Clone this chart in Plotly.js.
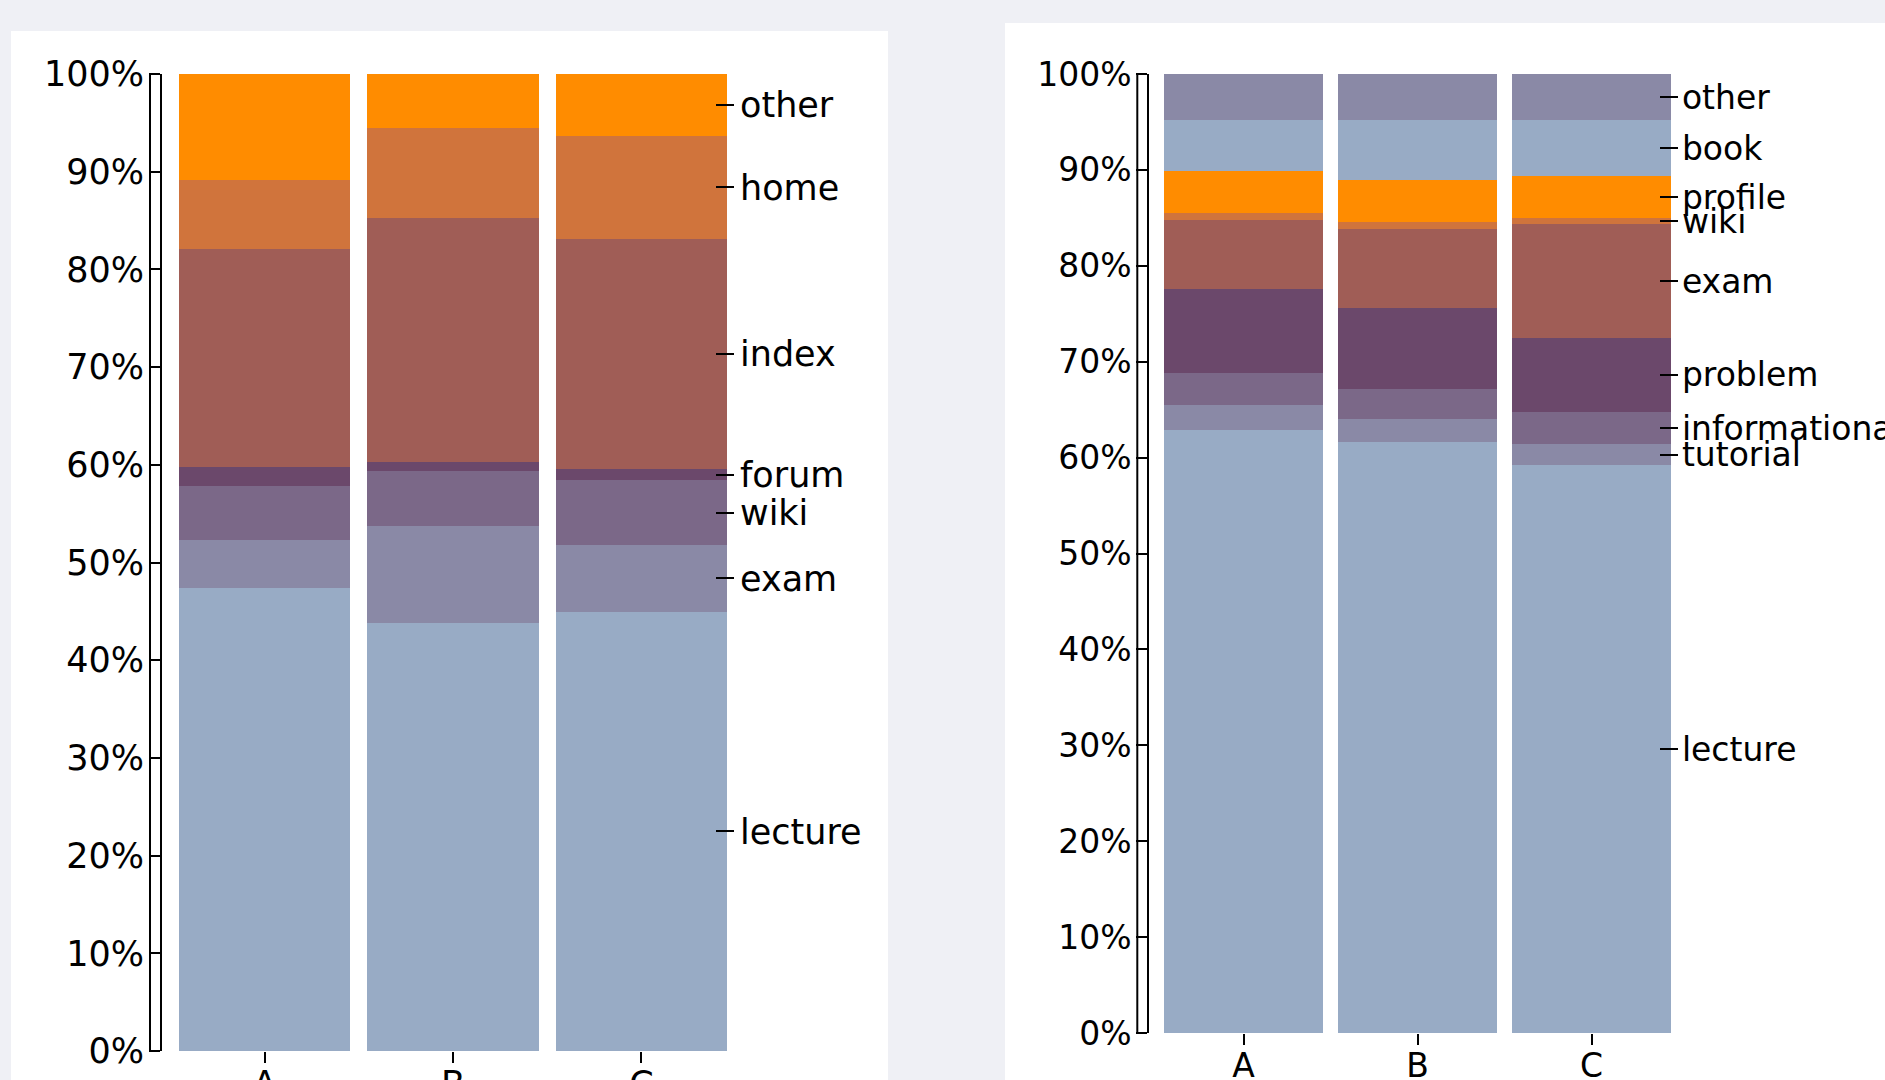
<!DOCTYPE html>
<html>
<head>
<meta charset="utf-8">
<script src="https://cdn.plot.ly/plotly-3.0.1.min.js"></script>
<style>
  html, body { margin: 0; padding: 0; background: #eff0f5; width: 1885px; height: 1080px; overflow: hidden; }
  .card { position: absolute; background: #ffffff; }
</style>
</head>
<body>
<div id="left" class="card" style="left:11px; top:31px; width:877px; height:1100px;"></div>
<div id="right" class="card" style="left:1005px; top:23px; width:880px; height:1100px;"></div>
<script>
// ---------- DATA ----------
const categories = ['A', 'B', 'C'];
const palette = ['#98abc5', '#8a89a6', '#7b6888', '#6b486b', '#a05d56', '#d0743c', '#ff8c00'];

// Left chart (bottom -> top)
const leftSeries = ['lecture', 'exam', 'wiki', 'forum', 'index', 'home', 'other'];
const leftLecture = [47.43, 43.77, 44.97];
const leftExam    = [4.87, 9.92, 6.82];
const leftWiki    = [5.55, 5.63, 6.62];
const leftForum   = [1.95, 0.99, 1.13];
const leftIndex   = [22.25, 24.91, 23.57];
const leftHome    = [7.05, 9.22, 10.56];
const leftOther   = [10.90, 5.56, 6.33];

// Right chart (bottom -> top)
const rightSeries = ['lecture', 'tutorial', 'informational', 'problem', 'exam', 'wiki', 'profile', 'book', 'other'];
const rightLecture       = [62.84, 61.59, 59.20];
const rightTutorial      = [2.63, 2.42, 2.18];
const rightInformational = [3.39, 3.19, 3.40];
const rightProblem       = [8.72, 8.41, 7.71];
const rightExam          = [7.20, 8.20, 11.84];
const rightWiki          = [0.76, 0.72, 0.65];
const rightProfile       = [4.32, 4.40, 4.40];
const rightBook          = [5.33, 6.26, 5.81];
const rightOther         = [4.81, 4.81, 4.81];

const yTickVals = [0, 10, 20, 30, 40, 50, 60, 70, 80, 90, 100];
const yTickText = ['0%', '10%', '20%', '30%', '40%', '50%', '60%', '70%', '80%', '90%', '100%'];

// ---------- DRAW ----------
function draw(divId, names, values, g) {
  const W = g.width, H = g.height;
  const FONT = {family: 'DejaVu Sans', size: g.fontSize, color: '#000000'};
  const traces = names.map((n, i) => ({
    type: 'bar', name: n, x: categories, y: values[i],
    marker: {color: palette[i % palette.length], line: {width: 0}},
    hoverinfo: 'none'
  }));
  // midpoints of each segment in the last category (normalised)
  const last = categories.length - 1;
  const total = values.reduce((s, v) => s + v[last], 0);
  let cum = 0;
  const mids = values.map(v => { const p = v[last] / total * 100; const m = cum + p / 2; cum += p; return m; });
  // invisible carrier so the right-hand label axis is drawn
  traces.push({
    type: 'scatter', mode: 'markers', x: mids.map(() => categories[last]), y: mids,
    yaxis: 'y2', marker: {opacity: 0, size: 1}, hoverinfo: 'skip', showlegend: false
  });

  const layout = {
    width: W, height: H,
    margin: {l: 0, r: 0, t: g.top, b: H - g.bottom, pad: 0},
    paper_bgcolor: '#ffffff', plot_bgcolor: 'rgba(0,0,0,0)',
    barmode: 'stack', barnorm: 'percent', bargap: 0.09,
    showlegend: false,
    font: FONT,
    xaxis: {
      type: 'category', domain: [g.x0 / W, g.x1 / W],
      showline: false, showgrid: false, zeroline: false,
      ticks: 'outside', ticklen: 11, tickwidth: 2, tickcolor: '#000',
      ticklabelstandoff: g.xStand,
      tickfont: FONT, anchor: 'y'
    },
    yaxis: {
      range: [0, 100], tickmode: 'array', tickvals: yTickVals, ticktext: yTickText,
      anchor: 'free', position: g.axisX / W,
      showline: true, linewidth: 2, linecolor: '#000',
      ticks: 'outside', ticklen: g.rectW, tickwidth: 2, tickcolor: '#000',
      ticklabelstandoff: -2,
      showgrid: false, zeroline: false, tickfont: FONT
    },
    yaxis2: {
      overlaying: 'y', side: 'right', range: [0, 100],
      anchor: 'free', position: g.labelTickX / W,
      tickmode: 'array', tickvals: mids, ticktext: names,
      showline: false, showgrid: false, zeroline: false,
      ticks: 'outside', ticklen: 18, tickwidth: 2, tickcolor: '#000',
      ticklabelstandoff: g.y2Stand,
      tickfont: FONT
    },
    shapes: [{
      type: 'line', xref: 'paper', yref: 'y',
      x0: (g.axisX - g.rectW) / W, x1: (g.axisX - g.rectW) / W, y0: 0, y1: 100,
      line: {color: '#000', width: 2}
    }]
  };
  Plotly.newPlot(divId, traces, layout, {staticPlot: true, displayModeBar: false});
}

draw('left',
  leftSeries,
  [leftLecture, leftExam, leftWiki, leftForum, leftIndex, leftHome, leftOther],
  {width: 877, height: 1100, top: 43, bottom: 1020.5, x0: 159.5, x1: 724.6, axisX: 150, rectW: 11,
   labelTickX: 704, fontSize: 35, xStand: -9, y2Stand: -1});

draw('right',
  rightSeries,
  [rightLecture, rightTutorial, rightInformational, rightProblem, rightExam, rightWiki, rightProfile, rightBook, rightOther],
  {width: 880, height: 1100, top: 51, bottom: 1010.5, x0: 151.5, x1: 673.6, axisX: 143.3, rectW: 11,
   labelTickX: 654.3, fontSize: 33, xStand: -8, y2Stand: -3});
</script>
</body>
</html>
